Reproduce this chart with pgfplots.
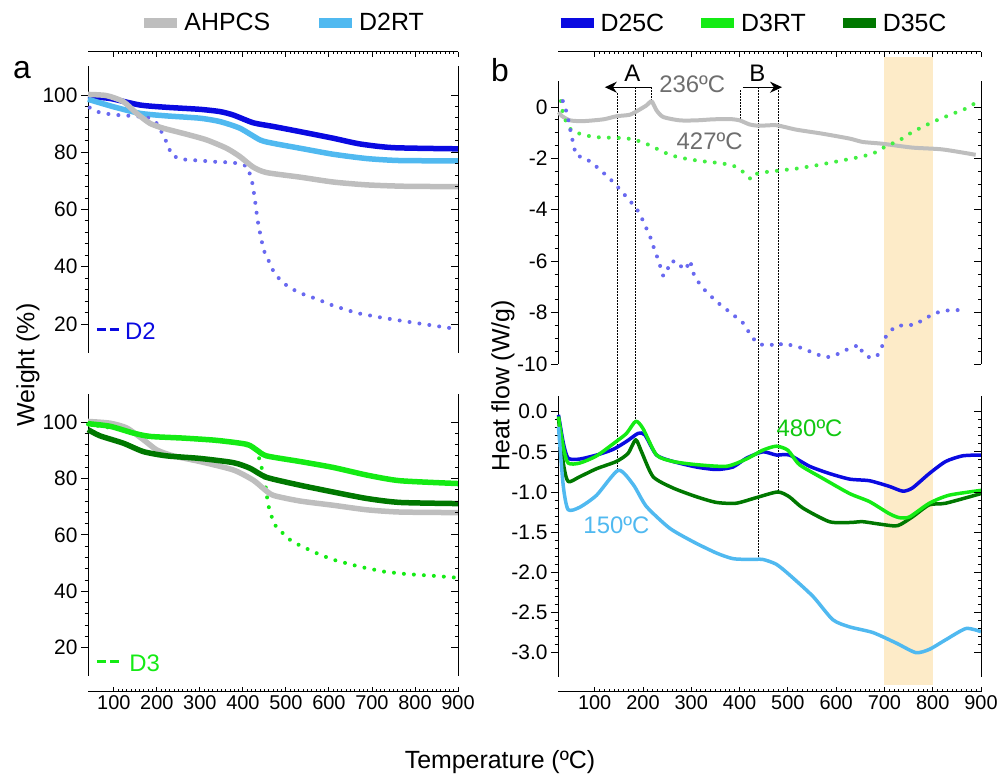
\documentclass[border=0pt]{standalone}
\usepackage{fontspec}
\setmainfont{Liberation Sans}
\usepackage{pgfplots}
\pgfplotsset{compat=1.18}
\usetikzlibrary{arrows.meta}

\definecolor{cgray}{RGB}{190,190,190}
\definecolor{clblue}{RGB}{80,185,240}
\definecolor{cblue}{RGB}{10,10,225}
\definecolor{cviolet}{RGB}{105,105,240}
\definecolor{cgreen}{RGB}{20,235,20}
\definecolor{cdgreen}{RGB}{0,120,0}
\definecolor{cband}{RGB}{253,235,200}
\definecolor{ctext}{RGB}{110,110,110}

\pgfplotsset{
 every non boxed y axis/.append style={y axis line style={-}},
 every non boxed x axis/.append style={x axis line style={-}},
 every axis/.append style={scale only axis, anchor=south west,
   tick label style={font=\fontsize{21}{21}\selectfont},
   axis line style={-, line width=1bp, black},
   tick style={black, line width=0.9bp},
   major tick length=7bp, minor tick length=3.5bp},
 ypanelL/.style={axis x line=none, axis y line=left, tick align=outside, y axis line style={-}},
 ypanelR/.style={axis x line=none, axis y line=right, tick align=inside, yticklabels={}, y axis line style={-}},
 xcol/.style={axis y line=none, axis x line=box, tick align=inside,
   xtick={100,200,...,900}, xticklabels={100,200,300,400,500,600,700,800,900},
   minor x tick num=9, ymin=0, ymax=1, major tick length=5bp, minor tick length=2.5bp,
   tick label style={font=\fontsize{20}{20}\selectfont}},
 tga/.style={line width=5.5bp, line join=round, smooth, tension=0.4},
 dsc/.style={line width=3.5bp, line join=round, smooth, tension=0.4},
 dots/.style={line width=4bp, line cap=round, dash pattern=on 0bp off 10bp},
 legimg/.style={legend image code/.code={\draw[##1, line width=10bp] (0bp,0bp) -- (33bp,0bp);}},
}
\tikzset{vline/.style={black, line width=0.9bp, dash pattern=on 1.5bp off 1.5bp}}
\newcommand{\fs}[1]{\fontsize{#1}{#1}\selectfont}

\begin{document}
\begin{tikzpicture}
\path[use as bounding box] (0,0) rectangle (1003bp,778bp);

% ---------- top-left TGA (D2) ----------
\begin{axis}[ypanelL, at={(88bp,425.4bp)}, width=370bp, height=286.2bp,
  xmin=40, xmax=900, ymin=10, ymax=110,
  ytick={20,40,60,80,100}, yticklabels={20,40,60,80,100}, minor y tick num=4,
  clip=false, legimg,
  legend style={draw=none, fill=none, at={(0.526,1.152)}, anchor=center,
    font=\fs{25}, inner sep=0pt,
    /tikz/every even column/.append style={column sep=42bp}},
  legend columns=-1]
\addplot[tga, cblue, forget plot] coordinates {(40,99.4)(91,98.8)(161,96.5)(223,95.7)(300,95)(347,94.2)(378,93)(424,90.3)(471,89)(533,87.2)(610,84.9)(672,82.9)(750,81.6)(900,81.2)};
\addplot[tga, clblue, forget plot] coordinates {(40,98.5)(99,95.9)(161,93.6)(223,92.7)(300,91.9)(347,90.7)(393,88.4)(440,84.3)(471,83.1)(533,81.4)(610,79.3)(688,77.8)(765,77.1)(900,77)};
\addplot[dots, cviolet, forget plot] coordinates {(44,95.6)(68,93.8)(91,93.3)(116,92.9)(141,92.7)(165,92.4)(184,91.9)(200,90.1)(215,86)(227,82)(234,79.1)(254,77.6)(277,77.3)(300,77.1)(331,76.7)(378,76.4)(409,75.2)(417,72.1)(423,68.6)(429,62.2)(434,56.4)(440,51.7)(448,45.9)(459,42.4)(471,38.4)(486,35.5)(506,32.9)(533,30.8)(572,28.7)(610,26.4)(665,23.8)(727,22.1)(804,20.3)(881,18.6)};
\addplot[tga, cgray, forget plot] coordinates {(40,100.2)(83,99.8)(122,97.7)(153,93.6)(184,90.1)(215,88.4)(269,86.3)(316,84.3)(362,81.4)(393,78.5)(424,74.8)(455,72.9)(533,71.3)(610,69.6)(688,68.6)(780,68.1)(900,68)};
\addlegendimage{cgray}\addlegendentry{AHPCS}
\addlegendimage{clblue}\addlegendentry{D2RT}
\draw[cblue, line width=3bp, dash pattern=on 9bp off 4bp] (rel axis cs:0.024,0.079) -- (rel axis cs:0.083,0.079);
\node[text=cblue, font=\fs{24}, anchor=west, inner sep=0pt] at (rel axis cs:0.1,0.075) {D2};
\end{axis}
\begin{axis}[ypanelR, at={(88bp,425.4bp)}, width=370bp, height=286.2bp,
  xmin=40, xmax=900, ymin=10, ymax=110, ytick={20,40,60,80,100}, minor y tick num=4]
\end{axis}

% ---------- bottom-left TGA (D3) ----------
\begin{axis}[ypanelL, at={(88bp,102bp)}, width=370bp, height=282.2bp,
  xmin=40, xmax=900, ymin=10, ymax=110,
  ytick={20,40,60,80,100}, yticklabels={20,40,60,80,100}, minor y tick num=4, clip=false]
\addplot[dots, cgreen] coordinates {(40,99.2)(100,97.8)(150,96)(200,94.6)(300,93.8)(400,92.3)(432,90)(440,86)(451,79.4)(455,74.6)(459,70.5)(465,67.5)(472,63.9)(490,61)(510,58.2)(533,56.2)(579,53)(610,51.2)(672,48.7)(727,47)(781,46.1)(843,45.5)(893,44.9)};
\addplot[tga, cgray] coordinates {(40,100.2)(91,99.6)(130,97.9)(169,93.7)(200,90.1)(238,88)(300,86)(378,83)(424,79.4)(448,76.4)(471,74)(533,72)(610,70.5)(688,68.9)(765,68.1)(900,67.9)};
\addplot[tga, cdgreen] coordinates {(40,97.3)(68,95.1)(122,92.5)(169,89.5)(223,88)(300,87.1)(378,85.6)(417,83.6)(455,80.4)(533,77.6)(610,75.2)(688,72.9)(765,71.5)(900,71.1)};
\addplot[tga, cgreen] coordinates {(40,99.4)(91,98.5)(145,96.1)(184,94.9)(262,94.3)(339,93.5)(409,92.1)(432,90.1)(455,88)(533,86)(610,83.9)(688,81.2)(765,79.2)(900,78.2)};
\draw[cgreen, line width=3bp, dash pattern=on 9bp off 4bp] (rel axis cs:0.024,0.05) -- (rel axis cs:0.087,0.05);
\node[text=cgreen, font=\fs{24}, anchor=west, inner sep=0pt] at (rel axis cs:0.111,0.045) {D3};
\end{axis}
\begin{axis}[ypanelR, at={(88bp,102bp)}, width=370bp, height=282.2bp,
  xmin=40, xmax=900, ymin=10, ymax=110, ytick={20,40,60,80,100}, minor y tick num=4]
\end{axis}

% ---------- left x axes ----------
\begin{axis}[xcol, at={(88bp,86bp)}, width=370bp, height=640bp, xmin=40, xmax=900]
\end{axis}

% ---------- top-right DSC (D2, D3, AHPCS) ----------
\begin{axis}[ypanelL, at={(558bp,414bp)}, width=423bp, height=282.7bp,
  xmin=24, xmax=900, ymin=-10, ymax=1,
  ytick={-10,-8,-6,-4,-2,0}, yticklabels={-10,-8,-6,-4,-2,0}, minor y tick num=3,
  clip=false, legimg,
  legend style={draw=none, fill=none, at={(0.4586,1.206)}, anchor=center,
    font=\fs{25}, inner sep=0pt,
    /tikz/every even column/.append style={column sep=30bp}},
  legend columns=-1]
\fill[cband] (axis cs:700,1.95) rectangle (axis cs:800,-22.49);
\draw[vline] (axis cs:147,0.54) -- (axis cs:147,-14.12);
\draw[vline] (axis cs:185,0.76) -- (axis cs:185,-12.26);
\draw[vline] (axis cs:218,0.76) -- (axis cs:218,0.19);
\draw[vline] (axis cs:402,0.66) -- (axis cs:402,-0.58);
\draw[vline] (axis cs:439,0.76) -- (axis cs:439,-17.51);
\draw[vline] (axis cs:481,0.76) -- (axis cs:481,-14.98);
\draw[line width=1.3bp, -{Stealth[length=12bp,width=11bp]}] (axis cs:218,0.77) -- (axis cs:121,0.77);
\draw[line width=1.3bp, -{Stealth[length=12bp,width=11bp]}] (axis cs:407,0.77) -- (axis cs:488,0.77);
\addplot[dsc, line width=4bp, cgray, forget plot] coordinates {(25,-0.2)(32,-0.35)(49,-0.52)(76,-0.55)(118,-0.48)(145,-0.36)(173,-0.3)(193,-0.1)(207,0.06)(218,0.22)(228,-0.13)(242,-0.39)(276,-0.52)(311,-0.52)(345,-0.48)(380,-0.47)(400,-0.52)(421,-0.68)(441,-0.73)(476,-0.71)(517,-0.88)(572,-1.04)(628,-1.23)(655,-1.36)(696,-1.43)(758,-1.58)(820,-1.65)(889,-1.86)};
\addplot[dots, cgreen!80!white, forget plot] coordinates {(30,0.23)(33,-0.13)(42,-0.65)(52,-0.91)(69,-1.04)(97,-1.17)(125,-1.19)(162,-1.21)(183,-1.27)(207,-1.43)(228,-1.62)(255,-1.86)(276,-1.97)(317,-2.1)(359,-2.18)(386,-2.27)(404,-2.47)(424,-2.82)(435,-2.6)(455,-2.53)(483,-2.47)(517,-2.4)(559,-2.27)(607,-2.1)(648,-1.95)(676,-1.82)(703,-1.53)(731,-1.3)(758,-0.97)(800,-0.58)(834,-0.32)(869,-0.06)(886,0.13)};
\addplot[dots, cviolet, forget plot] coordinates {(34,0.23)(38,0.06)(43,-0.32)(47,-0.65)(51,-1.04)(56,-1.45)(61,-1.88)(80,-1.99)(97,-2.21)(128,-2.73)(142,-2.99)(163,-3.44)(187,-3.96)(200,-4.42)(218,-5.19)(224,-5.58)(231,-5.91)(242,-6.58)(250,-6.36)(257,-6.01)(271,-6.01)(280,-6.23)(290,-6.32)(295,-5.97)(300,-6.13)(305,-6.49)(314,-6.79)(324,-7.05)(352,-7.57)(369,-7.82)(393,-8.18)(407,-8.4)(424,-8.9)(435,-9.16)(445,-9.25)(462,-9.22)(476,-9.32)(490,-9.19)(524,-9.35)(559,-9.61)(576,-9.74)(593,-9.71)(617,-9.48)(648,-9.25)(655,-9.58)(672,-9.78)(686,-9.65)(695,-9.32)(702,-8.96)(721,-8.55)(741,-8.48)(762,-8.48)(789,-8.18)(807,-8.01)(827,-7.92)(855,-7.9)(872,-7.9)};
\node[font=\fs{24}] at (axis cs:178,1.32) {A};
\node[font=\fs{24}] at (axis cs:437,1.32) {B};
\node[font=\fs{24}, text=ctext] at (axis cs:302,0.9) {236ºC};
\node[font=\fs{24}, text=ctext] at (axis cs:338,-1.35) {427ºC};
\addlegendimage{cblue}\addlegendentry{D25C}
\addlegendimage{cgreen}\addlegendentry{D3RT}
\addlegendimage{cdgreen}\addlegendentry{D35C}
\end{axis}
\begin{axis}[ypanelR, at={(558bp,414bp)}, width=423bp, height=282.7bp,
  xmin=24, xmax=900, ymin=-10, ymax=1, ytick={-10,-8,-6,-4,-2,0}, minor y tick num=3]
\end{axis}

% ---------- bottom-right DSC ----------
\begin{axis}[ypanelL, at={(558bp,101.3bp)}, width=423bp, height=281.1bp,
  xmin=24, xmax=900, ymin=-3.3, ymax=0.2,
  ytick={-3,-2.5,-2,-1.5,-1,-0.5,0}, yticklabels={-3.0,-2.5,-2.0,-1.5,-1.0,-0.5,0.0},
  minor y tick num=4, clip=false]
\addplot[dsc, cblue] coordinates {(25,-0.04)(35,-0.39)(45,-0.58)(69,-0.59)(104,-0.54)(138,-0.47)(166,-0.37)(190,-0.27)(204,-0.29)(228,-0.54)(262,-0.62)(311,-0.69)(352,-0.72)(386,-0.69)(414,-0.58)(448,-0.5)(476,-0.54)(503,-0.54)(545,-0.68)(586,-0.77)(628,-0.84)(669,-0.86)(710,-0.93)(738,-0.99)(758,-0.95)(793,-0.77)(827,-0.62)(862,-0.55)(900,-0.54)};
\addplot[dsc, cdgreen] coordinates {(25,-0.08)(35,-0.64)(45,-0.87)(69,-0.81)(104,-0.71)(145,-0.62)(169,-0.52)(185,-0.35)(197,-0.5)(221,-0.81)(262,-0.95)(311,-1.06)(352,-1.13)(393,-1.14)(435,-1.07)(479,-1.0)(503,-1.06)(531,-1.2)(586,-1.37)(628,-1.38)(655,-1.37)(690,-1.4)(727,-1.42)(758,-1.31)(793,-1.16)(827,-1.14)(900,-1.02)};
\addplot[dsc, cgreen] coordinates {(25,-0.06)(35,-0.44)(45,-0.64)(69,-0.64)(104,-0.55)(145,-0.37)(166,-0.27)(185,-0.12)(200,-0.21)(228,-0.54)(262,-0.62)(311,-0.66)(373,-0.68)(414,-0.59)(448,-0.48)(476,-0.43)(500,-0.48)(524,-0.66)(572,-0.83)(628,-1.02)(669,-1.12)(710,-1.27)(731,-1.32)(752,-1.31)(793,-1.14)(834,-1.04)(900,-0.98)};
\addplot[dsc, clblue] coordinates {(25,-0.19)(35,-0.93)(45,-1.22)(69,-1.19)(104,-1.04)(149,-0.73)(180,-0.91)(207,-1.18)(255,-1.45)(304,-1.62)(352,-1.76)(386,-1.83)(421,-1.84)(448,-1.84)(476,-1.9)(503,-2.03)(552,-2.3)(593,-2.59)(628,-2.68)(676,-2.75)(724,-2.88)(765,-3.0)(793,-2.96)(827,-2.84)(869,-2.7)(900,-2.74)};
\node[font=\fs{24}, text=cgreen!85!black] at (axis cs:545,-0.21) {480ºC};
\node[font=\fs{24}, text=clblue] at (axis cs:145,-1.41) {150ºC};
\end{axis}
\begin{axis}[ypanelR, at={(558bp,101.3bp)}, width=423bp, height=281.1bp,
  xmin=24, xmax=900, ymin=-3.3, ymax=0.2, ytick={-3,-2.5,-2,-1.5,-1,-0.5,0}, minor y tick num=4]
\end{axis}

% ---------- right x axes ----------
\begin{axis}[xcol, at={(558bp,86bp)}, width=423bp, height=640bp, xmin=24, xmax=900]
\end{axis}

% ---------- labels ----------
\node[font=\fs{32}] at (22bp,708bp) {a};
\node[font=\fs{32}] at (500bp,708bp) {b};
\node[font=\fs{25}, rotate=90] at (28bp,413bp) {Weight (\%)};
\node[font=\fs{25}, rotate=90] at (503bp,392bp) {Heat flow (W/g)};
\node[font=\fs{25}] at (500bp,16bp) {Temperature (ºC)};
\end{tikzpicture}
\end{document}
